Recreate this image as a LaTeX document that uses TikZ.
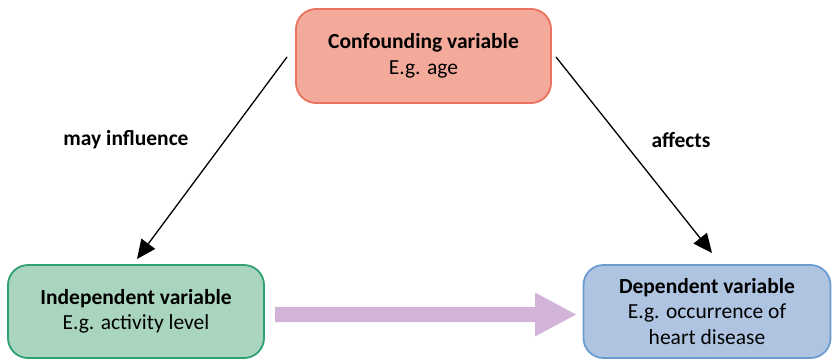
\documentclass[tikz,border=0pt]{standalone}
\usepackage{fontspec}
\setmainfont{Carlito}
\usetikzlibrary{arrows.meta}
\definecolor{confFill}{HTML}{F3AA9B}
\definecolor{confLine}{HTML}{E9735E}
\definecolor{indFill}{HTML}{A9D5BF}
\definecolor{indLine}{HTML}{2FA072}
\definecolor{depFill}{HTML}{AEC4E1}
\definecolor{depLine}{HTML}{6C9BD2}
\definecolor{bigArrow}{HTML}{D2B4D9}
\begin{document}
\begin{tikzpicture}[x=1pt,y=-1pt,
  varbox/.style={draw, line width=1.8pt, rounded corners=20pt, align=center,
    font=\fontsize{21.5}{25.5}\selectfont, inner sep=0pt},
  link/.style={line width=1.3pt, -{Triangle[length=19pt,width=17pt]}},
  linklabel/.style={font=\bfseries\fontsize{21.5}{25}\selectfont}]
\useasboundingbox (0,0) rectangle (832,362);
% the three variables
\node[varbox, fill=confFill, draw=confLine, minimum width=255pt, minimum height=94pt]
  (conf) at (423.5,56) {\textbf{Confounding variable}\\E.g. age};
\node[varbox, fill=indFill, draw=indLine, minimum width=256pt, minimum height=93pt]
  (ind) at (136,311.5) {\textbf{Independent variable}\\E.g. activity level};
\node[varbox, fill=depFill, draw=depLine, minimum width=247pt, minimum height=93pt]
  (dep) at (707,311.5) {\textbf{Dependent variable}\\E.g. occurrence of\\heart disease};
% causal links from the confounder
\coordinate (cl) at (287,57);
\coordinate (cr) at (556,57);
\coordinate (il) at (137,259);
\coordinate (dr) at (712,253);
\draw[link] (cl) -- (il);
\draw[link] (cr) -- (dr);
\node[linklabel] (lmay) at (126,140) {may influence};
\node[linklabel] (laff) at (681,140) {affects};
% thick arrow between the independent and dependent variables
\fill[bigArrow] (275,307) -- (535,307) -- (535,292.5) -- (576,314.5) -- (535,336.5)
  -- (535,322) -- (275,322) -- cycle;
\end{tikzpicture}
\end{document}
